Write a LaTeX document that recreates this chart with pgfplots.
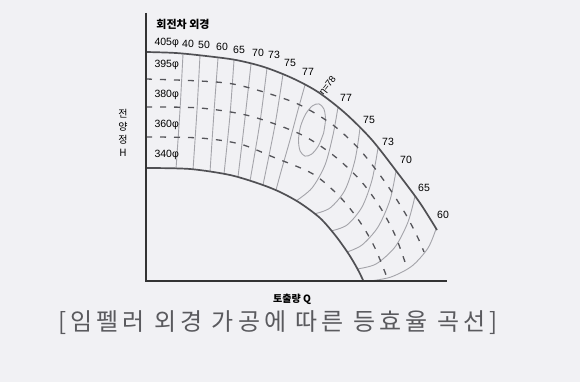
\documentclass[border=0pt]{standalone}
\usepackage{pgfplots}
\pgfplotsset{compat=1.18}
\usepackage{fontspec}
\setmainfont{Liberation Sans}
\newfontfamily\kr{Noto Sans CJK KR}
\newfontfamily\krcap[LetterSpace=17]{Noto Sans CJK KR}
\definecolor{bgc}{HTML}{F1F1F4}
\definecolor{cthick}{HTML}{505054}
\definecolor{cthin}{HTML}{A4A4AA}
\definecolor{cdash}{HTML}{55555A}
\definecolor{ctxt}{HTML}{38383C}
\definecolor{ccap}{HTML}{5A5A5E}
\begin{document}
\begin{tikzpicture}
\fill[bgc] (0,0) rectangle (580pt,382pt);
\begin{axis}[at={(0pt,0pt)},anchor=south west,x=1pt,y=1pt,y dir=reverse,
  xmin=0,xmax=580,ymin=0,ymax=382,hide axis,clip=false,
  every node/.append style={text=ctxt,inner sep=0pt}]
% left branches of efficiency curves
\addplot[cthin,line width=0.9pt,smooth] coordinates {(183,54) (180,110) (176,169)};
\addplot[cthin,line width=0.9pt,smooth] coordinates {(200,55) (197,110) (193,170)};
\addplot[cthin,line width=0.9pt,smooth] coordinates {(218,58) (214,112) (210,172)};
\addplot[cthin,line width=0.9pt,smooth] coordinates {(234,60) (230,115) (224,174)};
\addplot[cthin,line width=0.9pt,smooth] coordinates {(251,64) (245,118) (238,177)};
\addplot[cthin,line width=0.9pt,smooth] coordinates {(267,68) (260,122) (250,181)};
\addplot[cthin,line width=0.9pt,smooth] coordinates {(283,74) (275,125) (263,185)};
\addplot[cthin,line width=0.9pt,smooth] coordinates {(305,85) (298,110) (290,140) (282,168) (276,190)};
% eta = 78 ellipse
\addplot[cthin,line width=0.9pt,smooth] coordinates {(323.6,133.1) (318.5,145.7) (311.7,154.1) (305,156.1) (300.1,151) (298.5,140.4) (300.4,126.9) (305.5,114.3) (312.3,105.9) (319,103.9) (323.9,109) (325.5,119.6) (323.6,133.1)};
% right branches
\addplot[cthin,line width=0.9pt,smooth] coordinates {(338,107) (333,135) (325,165) (312,188) (296,201)};
\addplot[cthin,line width=0.9pt,smooth] coordinates {(360,128) (355,160) (345,190) (330,208) (314,214)};
\addplot[cthin,line width=0.9pt,smooth] coordinates {(378,148) (372,180) (362,207) (347,225) (331,231)};
\addplot[cthin,line width=0.9pt,smooth] coordinates {(396,171) (390,200) (378,227) (362,245) (347,252)};
\addplot[cthin,line width=0.9pt,smooth] coordinates {(415,196) (408,222) (395,247) (376,264) (357,269)};
\addplot[cthin,line width=0.9pt,smooth] coordinates {(436,229) (428,248) (412,266) (391,277) (370,281)};
% impeller diameter curves (dashed)
\addplot[cdash,line width=1.3pt,smooth,dash pattern=on 6pt off 8pt] coordinates {(146,79) (200,81) (233,84) (267,93) (300,105) (333,125) (360,150) (385,182) (405,213) (418,238) (424,252)};
\addplot[cdash,line width=1.3pt,smooth,dash pattern=on 6pt off 8pt] coordinates {(146,107) (200,108) (250,116) (300,134) (333,155) (360,180) (380,207) (395,235) (405,262)};
\addplot[cdash,line width=1.3pt,smooth,dash pattern=on 6pt off 8pt] coordinates {(146,137) (200,138) (240,144) (273,157) (313,174) (340,197) (360,222) (375,248) (388,280)};
% 405 and 340 curves
\addplot[cthick,line width=1.7pt,smooth] coordinates {(146,52) (176,53) (206,56) (236,60) (264,67) (292,78) (318,92) (345,113) (372,140) (400,176) (420,203) (437,230)};
\addplot[cthick,line width=1.7pt,smooth] coordinates {(146,168) (190,169) (230,175) (260,184) (280,192) (300,203) (320,218) (335,235) (348,253) (357,268) (363,280)};
% axes
\addplot[black!80,line width=2pt] coordinates {(146,13) (146,281) (447,281)};
% texts
\node[font=\kr\fontsize{11}{12}\selectfont\bfseries] at (axis cs:183,24) {회전차 외경};
\begin{scope}[every node/.append style={font=\fontsize{10.5}{12}\selectfont}]
\node[anchor=west] at (axis cs:151,43) {405φ};
\node at (axis cs:188,44) {40};
\node at (axis cs:204,45) {50};
\node at (axis cs:222,47) {60};
\node at (axis cs:239,50) {65};
\node at (axis cs:258,53) {70};
\node at (axis cs:274,55) {73};
\node at (axis cs:290,63) {75};
\node at (axis cs:308,72) {77};
\node[anchor=west] at (axis cs:151,65) {395φ};
\node[anchor=west] at (axis cs:151,95) {380φ};
\node[anchor=west] at (axis cs:151,125) {360φ};
\node[anchor=west] at (axis cs:151,155) {340φ};
\node[rotate=52,font=\fontsize{9.5}{11}\selectfont] at (axis cs:328,86) {η=78};
\node at (axis cs:346,98) {77};
\node at (axis cs:369,120) {75};
\node at (axis cs:388,142) {73};
\node at (axis cs:406,160) {70};
\node at (axis cs:424,188) {65};
\node at (axis cs:443,215) {60};
\end{scope}
\node[font=\kr\fontsize{10}{13}\selectfont,align=center] at (axis cs:123,133) {전\\양\\정\\H};
\node[font=\kr\fontsize{10}{12}\selectfont\bfseries] at (axis cs:292,299) {토출량 Q};
\node[font=\krcap\fontsize{24}{26}\selectfont,text=ccap] at (axis cs:278,323) {[임펠러 외경 가공에 따른 등효율 곡선]};
\end{axis}
\end{tikzpicture}
\end{document}
